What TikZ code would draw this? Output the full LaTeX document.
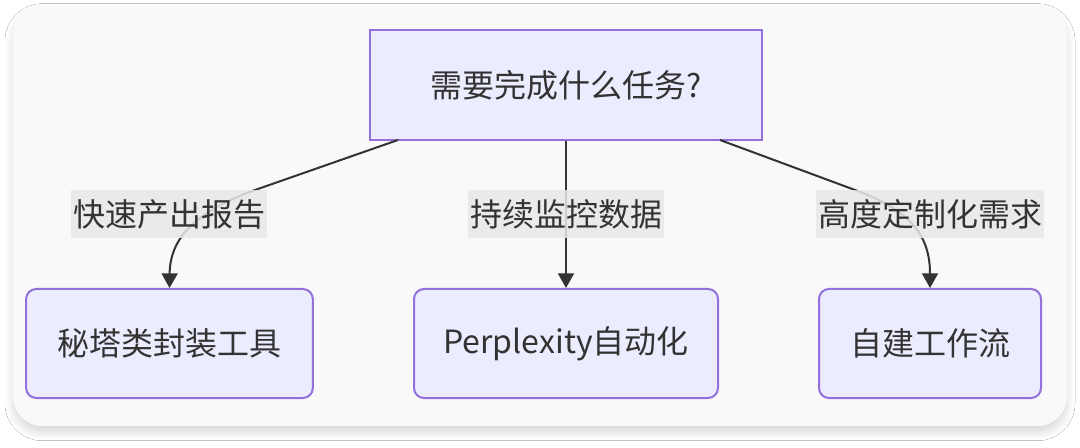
\documentclass[tikz,border=0pt]{standalone}
\usepackage{fontspec}
\setmainfont{Noto Sans CJK SC}
\usetikzlibrary{arrows.meta,shadows.blur}
\definecolor{nodefill}{HTML}{ECECFF}
\definecolor{nodeline}{HTML}{9370DB}
\definecolor{edgecol}{HTML}{333333}
\definecolor{lblbg}{HTML}{E8E8E8}
\definecolor{bgcol}{HTML}{F9F9F9}
\tikzset{
  box/.style={draw=nodeline, fill=nodefill, line width=1.5pt, text=edgecol, font=\fontsize{24pt}{28pt}\selectfont, inner sep=0pt},
  lbl/.style={fill=lblbg, fill opacity=0.85, text opacity=1, text=edgecol, font=\fontsize{24pt}{28pt}\selectfont, inner sep=1.5pt, minimum height=36pt},
  conn/.style={draw=edgecol, line width=1.5pt, -{Triangle[width=12pt,length=11pt]}}
}
\begin{document}
\begin{tikzpicture}[x=0.75pt,y=-0.75pt]
\useasboundingbox (0,0) rectangle (1080,448);
\fill[white] (0,0) rectangle (1080,448);
\path[fill=bgcol, rounded corners=22pt, blur shadow={shadow xshift=0pt, shadow yshift=-5pt, shadow blur radius=6pt, shadow opacity=15}] (13,5) rectangle (1067,426);
% nodes
\node[box, minimum width=294pt, minimum height=82.5pt] (top) at (566,85) {需要完成什么任务?};
\node[box, rounded corners=7.5pt, minimum width=215pt, minimum height=81.75pt] (left) at (169.5,343.5) {秘塔类封装工具};
\node[box, rounded corners=7.5pt, minimum width=228pt, minimum height=81.75pt] (mid) at (566,343.5) {Perplexity自动化};
\node[box, rounded corners=7.5pt, minimum width=166.5pt, minimum height=81.75pt] (right) at (930,343.5) {自建工作流};
% connector waypoints
\coordinate (ls) at (398,140);
\coordinate (lb) at (255,190);
\coordinate (rs) at (720,140);
\coordinate (rb) at (855,190);
% edges
\draw[conn] (ls) -- (lb) .. controls (200,210) and (170,235) .. (left.north);
\draw[conn] (top.south) -- (mid.north);
\draw[conn] (rs) -- (rb) .. controls (910,210) and (930,235) .. (right.north);
% labels
\node[lbl] (l1) at (169,214) {快速产出报告};
\node[lbl] (l2) at (566,214) {持续监控数据};
\node[lbl] (l3) at (930,214) {高度定制化需求};
\end{tikzpicture}
\end{document}
